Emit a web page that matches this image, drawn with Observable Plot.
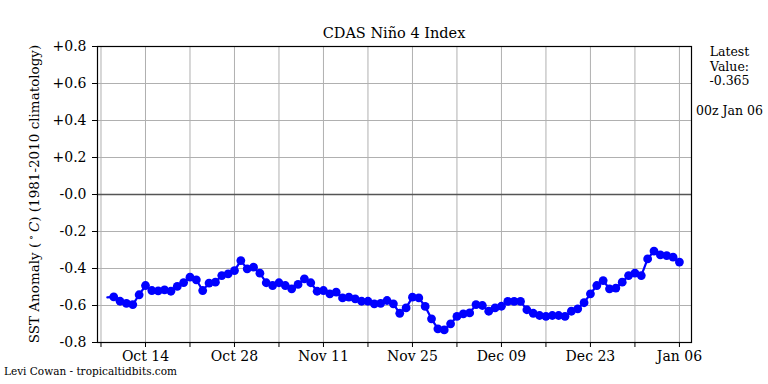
<!DOCTYPE html>
<html>
<head>
<meta charset="utf-8">
<script src="https://cdn.jsdelivr.net/npm/d3@7"></script>
<script src="https://cdn.jsdelivr.net/npm/@observablehq/plot@0.6"></script>
<style>
  html, body { margin: 0; padding: 0; background: white; }
</style>
</head>
<body>
<div id="chart"></div>
<script>
// ---- data ----
const startDate = "2024-10-08"; // first daily value
const values = [
  -0.556, -0.553, -0.577, -0.588, -0.595, -0.542, -0.492, -0.519, -0.521, -0.515,
  -0.523, -0.497, -0.476, -0.447, -0.461, -0.519, -0.479, -0.474, -0.438, -0.429,
  -0.411, -0.357, -0.402, -0.393, -0.425, -0.477, -0.492, -0.477, -0.492, -0.510,
  -0.486, -0.456, -0.477, -0.523, -0.519, -0.537, -0.528, -0.559, -0.555, -0.564,
  -0.577, -0.577, -0.591, -0.588, -0.573, -0.591, -0.642, -0.613, -0.555, -0.559,
  -0.605, -0.672, -0.726, -0.732, -0.699, -0.659, -0.645, -0.640, -0.595, -0.600,
  -0.631, -0.613, -0.604, -0.578, -0.578, -0.578, -0.623, -0.642, -0.654, -0.659,
  -0.654, -0.654, -0.659, -0.631, -0.618, -0.585, -0.537, -0.492, -0.465, -0.510,
  -0.506, -0.474, -0.438, -0.425, -0.438, -0.348, -0.306, -0.326, -0.330, -0.339,
  -0.365
];
const xTickDates = ["2024-10-07","2024-10-14","2024-10-21","2024-10-28","2024-11-04","2024-11-11",
  "2024-11-18","2024-11-25","2024-12-02","2024-12-09","2024-12-16","2024-12-23","2024-12-30","2025-01-06"];
const xTickLabels = ["","Oct 14","","Oct 28","","Nov 11","","Nov 25","","Dec 09","","Dec 23","","Jan 06"];
const yTicks = [-0.8, -0.6, -0.4, -0.2, 0, 0.2, 0.4, 0.6, 0.8];
const yTickLabels = ["-0.8","-0.6","-0.4","-0.2","-0.0","+0.2","+0.4","+0.6","+0.8"];
const titleText = "CDAS Niño 4 Index";
const latestLines = ["Latest", "Value:", "-0.365"];
const latestTime = "00z Jan 06";
const credit = "Levi Cowan - tropicaltidbits.com";

// ---- build ----
const DAY = 86400000;
const t0 = Date.parse(startDate + "T00:00:00Z");
const data = values.map((v, i) => ({date: new Date(t0 + i * DAY), value: v}));
const ticks = xTickDates.map(d => new Date(d + "T00:00:00Z"));
const tickLabelMap = new Map(ticks.map((d, i) => [+d, xTickLabels[i]]));
const yLabelMap = new Map(yTicks.map((v, i) => [v, yTickLabels[i]]));
const ref = Date.parse("2024-10-14T00:00:00Z");
const xDomain = [new Date(ref - 7.55 * DAY), new Date(ref + 85.9 * DAY)];

const FONT = "DejaVu Serif";
const W = 768, H = 384, ML = 97, MR = 77, MT = 46, MB = 42;

const svg = Plot.plot({
  width: W, height: H,
  marginLeft: ML, marginRight: MR, marginTop: MT, marginBottom: MB,
  style: {fontFamily: FONT, fontSize: "14px", background: "white", color: "black"},
  x: {type: "utc", domain: xDomain},
  y: {domain: [-0.8, 0.8]},
  marks: [
    Plot.gridX(ticks, {stroke: "#b0b0b0", strokeOpacity: 1, strokeWidth: 1}),
    Plot.gridY(yTicks, {stroke: "#b0b0b0", strokeOpacity: 1, strokeWidth: 1}),
    Plot.ruleY([0], {stroke: "#555555", strokeWidth: 1.3}),
    Plot.line(data, {x: "date", y: "value", stroke: "#0000ff", strokeWidth: 2.2}),
    Plot.dot(data.slice(1), {x: "date", y: "value", r: 4.4, fill: "#0000ff", stroke: "none"}),
    Plot.axisX({ticks, tickFormat: d => tickLabelMap.get(+d) ?? "", tickSize: 5, tickPadding: 4,
      fontSize: 14, label: null, stroke: "black"}),
    Plot.axisY({ticks: yTicks, tickFormat: v => yLabelMap.get(v) ?? "", tickSize: 5, tickPadding: 6,
      fontSize: 14, label: null, stroke: "black"}),
    Plot.frame({stroke: "black", strokeWidth: 1.2})
  ]
});

const s = d3.select(svg);
s.append("text")
  .attr("x", (ML + W - MR) / 2).attr("y", 38)
  .attr("text-anchor", "middle")
  .attr("font-family", FONT).attr("font-size", 14.5).attr("fill", "black")
  .text(titleText);

const yl = s.append("text")
  .attr("transform", `translate(39,${(MT + H - MB) / 2}) rotate(-90)`)
  .attr("text-anchor", "middle")
  .attr("font-family", FONT).attr("font-size", 13.5).attr("fill", "black");
yl.append("tspan").text("SST Anomaly (");
yl.append("tspan").attr("dy", -5).attr("font-size", 9.5).text(" ∘ ");
yl.append("tspan").attr("dy", 5).attr("font-style", "italic").text("C");
yl.append("tspan").text(") (1981-2010 climatology)");

latestLines.forEach((t, i) => {
  s.append("text")
    .attr("x", 729.5).attr("y", 56 + i * 14.5)
    .attr("text-anchor", "middle")
    .attr("font-family", FONT).attr("font-size", 12.5).attr("fill", "black")
    .text(t);
});
s.append("text")
  .attr("x", 729.5).attr("y", 115)
  .attr("text-anchor", "middle")
  .attr("font-family", FONT).attr("font-size", 12.5).attr("fill", "black")
  .text(latestTime);

s.append("text")
  .attr("x", 4).attr("y", 375)
  .attr("text-anchor", "start")
  .attr("font-family", FONT).attr("font-size", 10.5).attr("fill", "black")
  .text(credit);

document.getElementById("chart").appendChild(svg);
</script>
</body>
</html>
